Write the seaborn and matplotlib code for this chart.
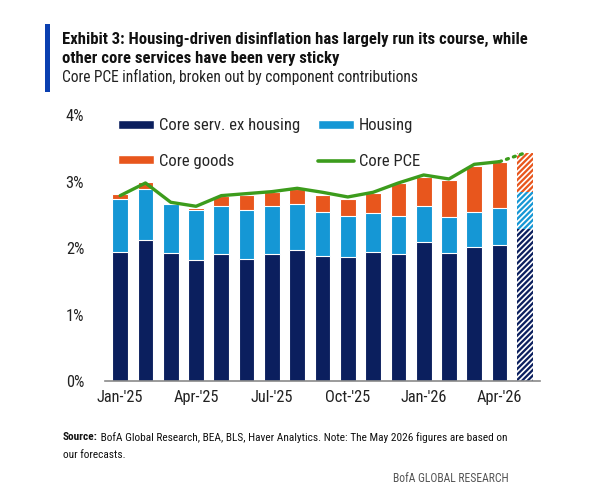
import numpy as np
import pandas as pd
import matplotlib
matplotlib.use("Agg")
import matplotlib.pyplot as plt
import seaborn as sns
from matplotlib.patches import Patch
from matplotlib.lines import Line2D

months = ["Jan-25", "Feb-25", "Mar-25", "Apr-25", "May-25", "Jun-25", "Jul-25", "Aug-25",
          "Sep-25", "Oct-25", "Nov-25", "Dec-25", "Jan-26", "Feb-26", "Mar-26", "Apr-26", "May-26"]
tick_labels = ["Jan-'25", "", "", "Apr-'25", "", "", "Jul-'25", "", "", "Oct-'25", "", "",
               "Jan-'26", "", "", "Apr-'26", ""]
core_serv_ex_housing = [1.94, 2.13, 1.93, 1.82, 1.91, 1.84, 1.91, 1.97, 1.89, 1.87, 1.94, 1.91,
                        2.09, 1.93, 2.02, 2.05, 2.29]
housing = [0.80, 0.76, 0.74, 0.76, 0.73, 0.74, 0.72, 0.69, 0.66, 0.62, 0.59, 0.58,
           0.55, 0.54, 0.53, 0.55, 0.56]
core_goods = [0.07, 0.10, 0.01, 0.02, 0.14, 0.22, 0.21, 0.23, 0.25, 0.25, 0.30, 0.49,
              0.43, 0.56, 0.68, 0.69, 0.58]
core_pce = [2.79, 2.98, 2.69, 2.63, 2.79, 2.82, 2.85, 2.90, 2.84, 2.77, 2.84, 2.98,
            3.10, 3.04, 3.26, 3.30, 3.43]

NAVY = "#0b1f5e"
LBLUE = "#1597d5"
ORANGE = "#e8561d"
GREEN = "#3c9c1c"

sns.set_theme(style="white")
plt.rcParams["font.family"] = ["Roboto Condensed", "DejaVu Sans"]
plt.rcParams["hatch.linewidth"] = 1.2

df = pd.DataFrame({"month": months, "serv": core_serv_ex_housing,
                   "housing": housing, "goods": core_goods, "pce": core_pce})
df["top_housing"] = df["serv"] + df["housing"]
df["top_goods"] = df["top_housing"] + df["goods"]

fig = plt.figure(figsize=(6.0, 4.99), dpi=100)
ax = fig.add_axes([0.175, 0.2355, 0.725, 0.534])

layers = [("top_goods", ORANGE), ("top_housing", LBLUE), ("serv", NAVY)]
for col, c in layers:
    n_before = len(ax.patches)
    sns.barplot(data=df, x="month", y=col, order=months, color=c, saturation=1,
                width=0.62, edgecolor="white", linewidth=0.8, ax=ax)
    last = ax.patches[n_before:][-1]
    last.set_hatch("//////")
    last.set_edgecolor("white")
    last.set_linewidth(0)

pos = np.arange(len(months))
sns.lineplot(x=pos[:-1], y=df["pce"].values[:-1], color=GREEN, linewidth=2.4, ax=ax)
ax.plot(pos[-2:], df["pce"].values[-2:], color=GREEN, linewidth=2.4,
        linestyle=(0, (0.6, 1.6)), dash_capstyle="round")

ax.set_ylim(0, 4)
ax.set_xlim(-0.6, len(months) - 0.4)
ax.set_yticks([0, 1, 2, 3, 4])
ax.set_yticklabels(["0%", "1%", "2%", "3%", "4%"])
ax.set_xticks(pos)
ax.set_xticklabels(tick_labels)
ax.set_xlabel("")
ax.set_ylabel("")
ax.tick_params(axis="both", length=0, labelsize=11.8, colors="#222222")
ax.tick_params(axis="y", pad=15)
ax.tick_params(axis="x", pad=6)
for s in ["top", "right", "left"]:
    ax.spines[s].set_visible(False)
ax.spines["bottom"].set_color("#8a8a8a")
ax.spines["bottom"].set_linewidth(1.2)

handles = [Patch(facecolor=NAVY), Patch(facecolor=ORANGE),
           Patch(facecolor=LBLUE), Line2D([0], [0], color=GREEN, linewidth=2.6)]
labels = ["Core serv. ex housing", "Core goods", "Housing", "Core PCE"]
leg = ax.legend(handles, labels, ncol=2, loc="upper left", bbox_to_anchor=(-0.005, 1.045),
                frameon=False, fontsize=12, handlelength=2.15, handleheight=0.45,
                handletextpad=0.3, columnspacing=1.1, labelspacing=1.25)

# left accent bar
fig.patches.append(plt.Rectangle((0.075, 0.816), 0.009, 0.135, transform=fig.transFigure,
                                 facecolor="#0a3fb0", edgecolor="none"))
fig.text(0.104, 0.920, "Exhibit 3: Housing-driven disinflation has largely run its course, while",
         fontsize=12, fontweight="bold", color="#111111", va="center")
fig.text(0.104, 0.883, "other core services have been very sticky",
         fontsize=12, fontweight="bold", color="#111111", va="center")
fig.text(0.104, 0.845, "Core PCE inflation, broken out by component contributions",
         fontsize=11.2, color="#222222", va="center")

src = fig.text(0.105, 0.124, "Source:", fontsize=8.2, fontweight="bold",
               color="#111111", va="center")
ax.annotate(" BofA Global Research, BEA, BLS, Haver Analytics. Note: The May 2026 figures are based on",
            xy=(1, 0.5), xycoords=src, va="center", ha="left", fontsize=8.2, color="#111111",
            annotation_clip=False)
fig.text(0.105, 0.088, "our forecasts.", fontsize=8.2, color="#111111", va="center")
fig.text(0.847, 0.042, "BofA GLOBAL RESEARCH", fontsize=8.4, color="#555555",
         va="center", ha="right")

fig.savefig("out.png", dpi=100)
